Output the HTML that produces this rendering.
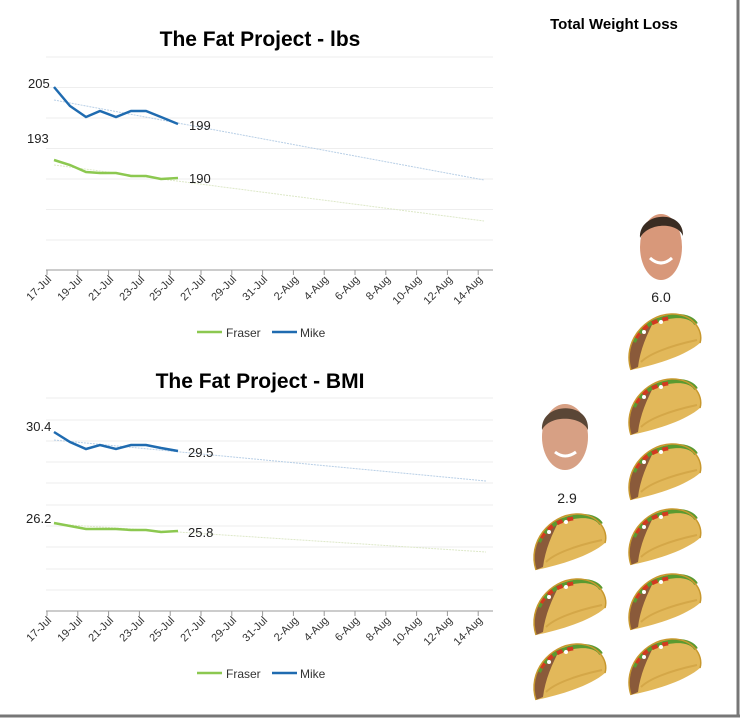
<!DOCTYPE html>
<html><head><meta charset="utf-8"><style>
html,body{margin:0;padding:0;background:#fff;}
svg{display:block;font-family:"Liberation Sans",sans-serif;}
</style></head><body>
<svg width="741" height="718" viewBox="0 0 741 718">
<defs>
<g id="taco">
<path d="M6,58 C-3,30 20,3 46,2 C67,1 79,18 75,31 C60,44 30,53 6,58 Z" fill="#e2b85a"/>
<path d="M16,50 C24,42 44,34 72,28" stroke="#d4a748" stroke-width="2" fill="none"/>
<path d="M6,58 C0,36 12,14 30,7 C22,22 15,38 13,55 Z" fill="#8a5a3a"/>
<path d="M9,30 C17,13 33,5 52,4 C63,4 69,8 71,12" stroke="#5a9a30" stroke-width="4" fill="none"/>
<path d="M11,26 C19,13 31,8 46,6" stroke="#d23a20" stroke-width="4" stroke-dasharray="6 5" fill="none"/>
<circle cx="19" cy="20" r="2" fill="#fff"/><circle cx="36" cy="10" r="2" fill="#fff"/>
<path d="M6,58 C-3,30 20,3 46,2 C67,1 79,18 75,31" stroke="#c8982e" stroke-width="1.5" fill="none"/>
</g>
</defs>
<rect width="741" height="718" fill="#fff"/>
<line x1="738" y1="0" x2="738" y2="716" stroke="#777" stroke-width="3"/>
<line x1="0" y1="716" x2="740" y2="716" stroke="#777" stroke-width="3"/>

<text x="260" y="46" text-anchor="middle" font-size="21" font-weight="bold">The Fat Project - lbs</text>
<g stroke="#eeeeee" stroke-width="1">
<line x1="46" y1="57" x2="493" y2="57"/><line x1="46" y1="87.5" x2="493" y2="87.5"/><line x1="46" y1="118" x2="493" y2="118"/><line x1="46" y1="148.5" x2="493" y2="148.5"/><line x1="46" y1="179" x2="493" y2="179"/><line x1="46" y1="209.5" x2="493" y2="209.5"/><line x1="46" y1="240" x2="493" y2="240"/>
</g>
<line x1="46" y1="270" x2="493" y2="270" stroke="#999" stroke-width="1"/>
<g id="ticks1" stroke="#999"><line x1="47" y1="270" x2="47" y2="275"/><line x1="77.8" y1="270" x2="77.8" y2="275"/><line x1="108.6" y1="270" x2="108.6" y2="275"/><line x1="139.4" y1="270" x2="139.4" y2="275"/><line x1="170.2" y1="270" x2="170.2" y2="275"/><line x1="201" y1="270" x2="201" y2="275"/><line x1="231.8" y1="270" x2="231.8" y2="275"/><line x1="262.6" y1="270" x2="262.6" y2="275"/><line x1="293.4" y1="270" x2="293.4" y2="275"/><line x1="324.2" y1="270" x2="324.2" y2="275"/><line x1="355" y1="270" x2="355" y2="275"/><line x1="385.8" y1="270" x2="385.8" y2="275"/><line x1="416.6" y1="270" x2="416.6" y2="275"/><line x1="447.4" y1="270" x2="447.4" y2="275"/><line x1="478.2" y1="270" x2="478.2" y2="275"/></g>
<g font-size="11" fill="#333" text-anchor="end">
<text transform="translate(52,280) rotate(-45)">17-Jul</text><text transform="translate(83,280) rotate(-45)">19-Jul</text><text transform="translate(114,280) rotate(-45)">21-Jul</text><text transform="translate(145,280) rotate(-45)">23-Jul</text><text transform="translate(175,280) rotate(-45)">25-Jul</text><text transform="translate(206,280) rotate(-45)">27-Jul</text><text transform="translate(237,280) rotate(-45)">29-Jul</text><text transform="translate(268,280) rotate(-45)">31-Jul</text><text transform="translate(299,280) rotate(-45)">2-Aug</text><text transform="translate(329,280) rotate(-45)">4-Aug</text><text transform="translate(360,280) rotate(-45)">6-Aug</text><text transform="translate(391,280) rotate(-45)">8-Aug</text><text transform="translate(422,280) rotate(-45)">10-Aug</text><text transform="translate(453,280) rotate(-45)">12-Aug</text><text transform="translate(483,280) rotate(-45)">14-Aug</text>
</g>
<line x1="54" y1="100" x2="484" y2="180" stroke="#b8cfe6" stroke-width="1" stroke-dasharray="2 1"/>
<line x1="54" y1="165" x2="484" y2="221" stroke="#dde8c8" stroke-width="1" stroke-dasharray="2 1"/>
<polyline points="54,87 70,106 86,117 100,111 116,117 131,111 146,111 161,117 178,124" fill="none" stroke="#1f6bb0" stroke-width="2.5"/>
<polyline points="54,160 70,165 86,172 100,173 116,173 131,176 146,176 161,179 178,178" fill="none" stroke="#8cc850" stroke-width="2.5"/>
<g font-size="13" fill="#222">
<text x="28" y="88">205</text><text x="189" y="130">199</text><text x="27" y="143">193</text><text x="189" y="183">190</text>
</g>
<line x1="197" y1="332" x2="222" y2="332" stroke="#8cc850" stroke-width="2.5"/>
<text x="226" y="337" font-size="12" fill="#333">Fraser</text>
<line x1="272" y1="332" x2="297" y2="332" stroke="#1f6bb0" stroke-width="2.5"/>
<text x="300" y="337" font-size="12" fill="#333">Mike</text>

<text x="260" y="388" text-anchor="middle" font-size="21" font-weight="bold">The Fat Project - BMI</text>
<g stroke="#eeeeee" stroke-width="1">
<line x1="46" y1="398" x2="493" y2="398"/><line x1="46" y1="420" x2="493" y2="420"/><line x1="46" y1="441" x2="493" y2="441"/><line x1="46" y1="462" x2="493" y2="462"/><line x1="46" y1="483" x2="493" y2="483"/><line x1="46" y1="505" x2="493" y2="505"/><line x1="46" y1="526" x2="493" y2="526"/><line x1="46" y1="547" x2="493" y2="547"/><line x1="46" y1="569" x2="493" y2="569"/><line x1="46" y1="590" x2="493" y2="590"/>
</g>
<line x1="46" y1="611" x2="493" y2="611" stroke="#999" stroke-width="1"/>
<use href="#ticks1" transform="translate(0,341)"/>
<g font-size="11" fill="#333" text-anchor="end">
<text transform="translate(52,621) rotate(-45)">17-Jul</text><text transform="translate(83,621) rotate(-45)">19-Jul</text><text transform="translate(114,621) rotate(-45)">21-Jul</text><text transform="translate(145,621) rotate(-45)">23-Jul</text><text transform="translate(175,621) rotate(-45)">25-Jul</text><text transform="translate(206,621) rotate(-45)">27-Jul</text><text transform="translate(237,621) rotate(-45)">29-Jul</text><text transform="translate(268,621) rotate(-45)">31-Jul</text><text transform="translate(299,621) rotate(-45)">2-Aug</text><text transform="translate(329,621) rotate(-45)">4-Aug</text><text transform="translate(360,621) rotate(-45)">6-Aug</text><text transform="translate(391,621) rotate(-45)">8-Aug</text><text transform="translate(422,621) rotate(-45)">10-Aug</text><text transform="translate(453,621) rotate(-45)">12-Aug</text><text transform="translate(483,621) rotate(-45)">14-Aug</text>
</g>
<line x1="54" y1="440" x2="486" y2="481" stroke="#b8cfe6" stroke-width="1" stroke-dasharray="2 1"/>
<line x1="54" y1="524" x2="486" y2="552" stroke="#dde8c8" stroke-width="1" stroke-dasharray="2 1"/>
<polyline points="54,432 70,442 86,449 100,445 116,449 131,445 146,445 161,448 178,451" fill="none" stroke="#1f6bb0" stroke-width="2.5"/>
<polyline points="54,523 70,526 86,529 100,529 116,529 131,530 146,530 161,532 178,531" fill="none" stroke="#8cc850" stroke-width="2.5"/>
<g font-size="13" fill="#222">
<text x="26" y="431">30.4</text><text x="188" y="457">29.5</text><text x="26" y="523">26.2</text><text x="188" y="537">25.8</text>
</g>
<line x1="197" y1="673" x2="222" y2="673" stroke="#8cc850" stroke-width="2.5"/>
<text x="226" y="678" font-size="12" fill="#333">Fraser</text>
<line x1="272" y1="673" x2="297" y2="673" stroke="#1f6bb0" stroke-width="2.5"/>
<text x="300" y="678" font-size="12" fill="#333">Mike</text>

<text x="614" y="29" text-anchor="middle" font-size="15" font-weight="bold">Total Weight Loss</text>
<ellipse cx="661" cy="247" rx="21" ry="33" fill="#d8987a"/>
<path d="M640,238 C638,212 684,208 683,236 C678,222 648,222 640,238 Z" fill="#3a2c22"/>
<path d="M650,258 Q661,268 672,258" stroke="#fff" stroke-width="3" fill="none"/>
<text x="661" y="302" text-anchor="middle" font-size="14" fill="#222">6.0</text>
<ellipse cx="565" cy="437" rx="23" ry="33" fill="#d7a084"/>
<path d="M542,430 C540,402 590,400 588,430 C582,416 550,414 542,430 Z" fill="#5a4636"/>
<path d="M555,452 Q565,460 576,452" stroke="#fff" stroke-width="3" fill="none"/>
<text x="567" y="503" text-anchor="middle" font-size="14" fill="#222">2.9</text>
<use href="#taco" transform="translate(625,312)"/>
<use href="#taco" transform="translate(625,377)"/>
<use href="#taco" transform="translate(625,442)"/>
<use href="#taco" transform="translate(625,507)"/>
<use href="#taco" transform="translate(625,572)"/>
<use href="#taco" transform="translate(625,637)"/>
<use href="#taco" transform="translate(530,512)"/>
<use href="#taco" transform="translate(530,577)"/>
<use href="#taco" transform="translate(530,642)"/>
</svg>
</body></html>
